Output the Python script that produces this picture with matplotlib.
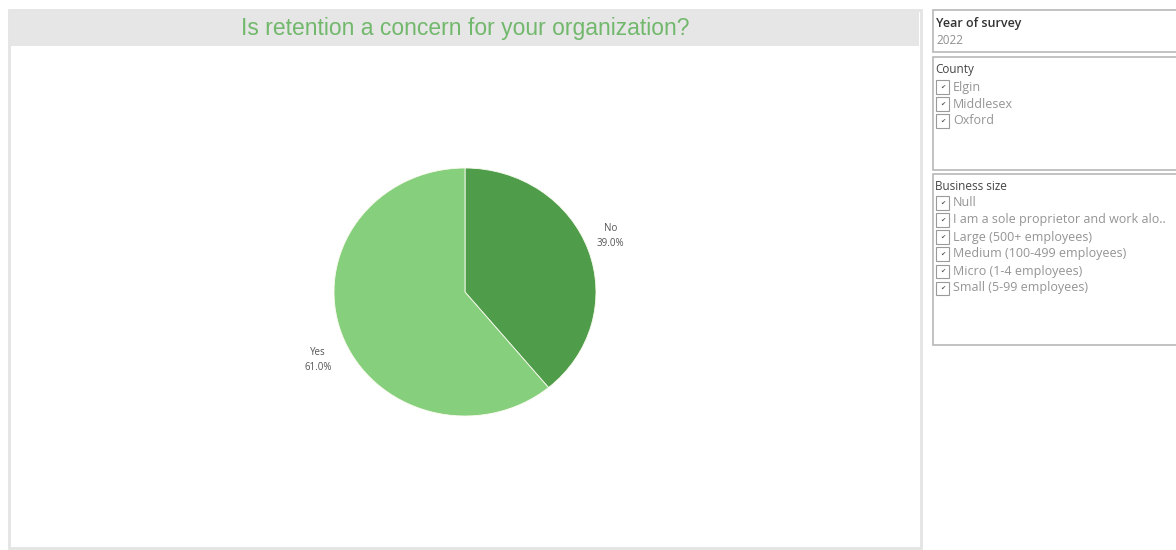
import matplotlib.pyplot as plt
from matplotlib.patches import Rectangle
import numpy as np

W, H = 1176, 550

title = 'Is retention a concern for your organization?'
answers = ['No', 'Yes']
shares = [39.0, 61.0]
slice_colors = ['#4f9d4a', '#86cf7d']

year_filter = '2022'
counties = ['Elgin', 'Middlesex', 'Oxford']
business_sizes = ['Null',
                  'I am a sole proprietor and work alo..',
                  'Large (500+ employees)',
                  'Medium (100-499 employees)',
                  'Micro (1-4 employees)',
                  'Small (5-99 employees)']

plt.rcParams['font.family'] = ['Liberation Sans', 'DejaVu Sans']
ui_font = ['Open Sans', 'DejaVu Sans']

fig = plt.figure(figsize=(W / 100, H / 100), dpi=100)
fig.patch.set_facecolor('white')


def fx(x):
    return x / W


def fy(y):
    return 1 - y / H


def box(x0, y0, x1, y1, **kw):
    fig.patches.append(Rectangle((fx(x0), fy(y1)), fx(x1 - x0), (y1 - y0) / H,
                                 transform=fig.transFigure, zorder=-1, **kw))


# main worksheet panel with grey title band
box(9, 10, 921, 548, facecolor='white', edgecolor='#e4e4e4', lw=2)
box(11, 12, 919, 46, facecolor='#e6e6e6', edgecolor='none')
fig.text(fx(465), fy(29), title, color='#72b86c', fontsize=16.5,
         ha='center', va='center')

# pie
ax = fig.add_axes([fx(465 - 131), fy(292 + 124), 262 / W, 248 / H])
ax.set_zorder(5)
wedges, _ = ax.pie(shares, colors=slice_colors, startangle=90,
                   counterclock=False, radius=1,
                   wedgeprops=dict(edgecolor='#fbfbf0', linewidth=0.6))
ax.set_aspect('auto')
ax.set_xlim(-1, 1)
ax.set_ylim(-1, 1)

label_spots = [(22, 1.2), (-154, 1.25)]
for name, val, (ang, r) in zip(answers, shares, label_spots):
    a = np.deg2rad(ang)
    ax.text(r * np.cos(a), r * np.sin(a), f'{name}\n{val:.1f}%',
            ha='center', va='center', fontsize=7, color='#555555',
            linespacing=1.5, clip_on=False, family=ui_font)

# filter cards on the right
box(933, 10, 1180, 52, facecolor='white', edgecolor='#b8b8b8', lw=1.2)
fig.text(fx(936), fy(23), 'Year of survey', fontsize=9, color='#333333',
         fontweight='semibold', va='center', family=ui_font)
fig.text(fx(936), fy(41), year_filter, fontsize=8.5, color='#8f8f8f',
         va='center', family=ui_font)


def checklist(top, bottom, heading, items, first_y, step):
    box(933, top, 1180, bottom, facecolor='white', edgecolor='#b8b8b8', lw=1.2)
    fig.text(fx(935), fy(first_y - 17), heading, fontsize=8.5, color='#444444',
             va='center', family=ui_font)
    for i, item in enumerate(items):
        y = first_y + i * step
        box(936, y - 6.5, 949, y + 6.5, facecolor='white',
            edgecolor='#9a9a9a', lw=0.8)
        fig.text(fx(942.5), fy(y), '\u2714', fontsize=4.5, color='#555555',
                 ha='center', va='center', family=['DejaVu Sans'])
        fig.text(fx(953), fy(y), item, fontsize=9, color='#949494',
                 va='center', family=ui_font)


checklist(57, 170, 'County', counties, 87, 17)
checklist(174, 345, 'Business size', business_sizes, 203, 17)

fig.savefig('out.png', dpi=100, facecolor='white')
